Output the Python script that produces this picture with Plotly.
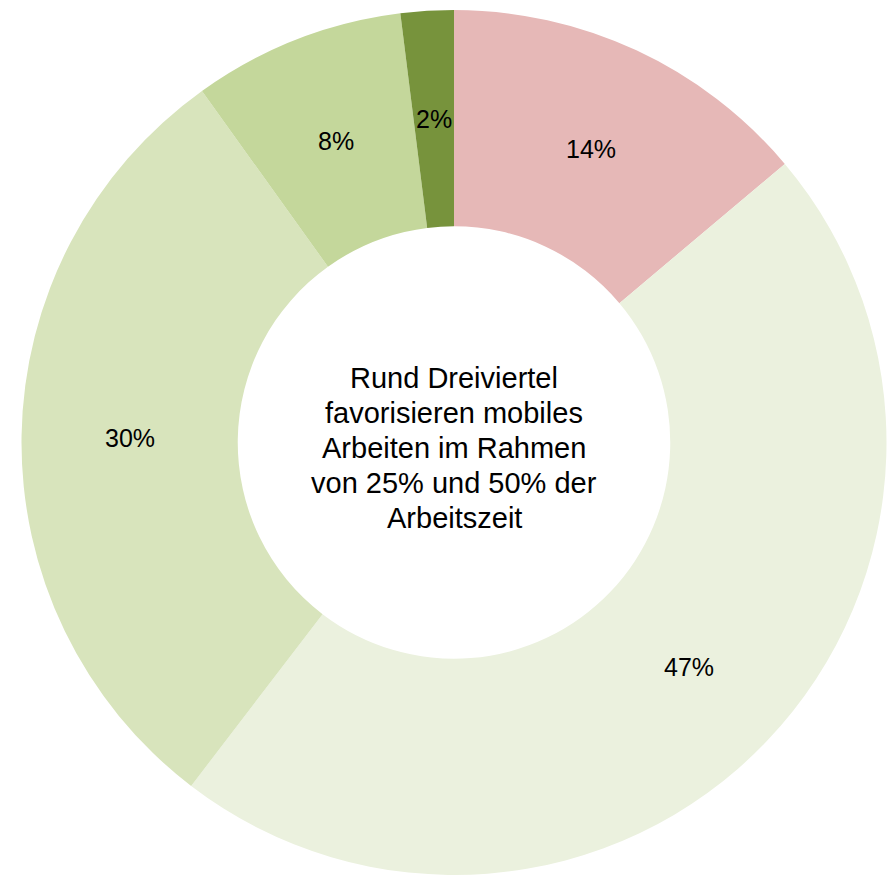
import math
import plotly.graph_objects as go

# Share of preferred mobile-work time, clockwise from 12 o'clock
categories = ["Anteil A", "Anteil B", "Anteil C", "Anteil D", "Anteil E"]
shares = [14, 47, 30, 8, 2]
colors = ["#E6B8B7", "#EBF1DE", "#D8E4BC", "#C4D79B", "#77933C"]

center_lines = [
    "Rund Dreiviertel",
    "favorisieren mobiles",
    "Arbeiten im Rahmen",
    "von 25% und 50% der",
    "Arbeitszeit",
]

W, H = 896, 875
FONT = "Liberation Sans, Arial, sans-serif"

# Pie placement in pixels
x0, x1 = 21, 887
top = 10
radius = (x1 - x0) / 2
cx = (x0 + x1) / 2
cy = top + radius
hole = 0.5

fig = go.Figure(
    go.Pie(
        labels=categories,
        values=shares,
        hole=hole,
        sort=False,
        direction="clockwise",
        rotation=0,
        marker=dict(colors=colors, line=dict(width=0)),
        textinfo="none",
        hoverinfo="label+value",
        showlegend=False,
        domain=dict(x=[x0 / W, x1 / W], y=[0, 1 - top / H]),
    )
)

# Percentage labels at the middle angle of each slice, mid-ring
total = sum(shares)
label_r = radius * 0.749
cum = 0
for v in shares:
    ang = math.radians((cum + v / 2) / total * 360)
    cum += v
    px = cx + label_r * math.sin(ang)
    py = cy - label_r * math.cos(ang)
    fig.add_annotation(
        text=f"{v}%",
        x=px / W,
        y=1 - py / H,
        xref="paper",
        yref="paper",
        showarrow=False,
        xanchor="center",
        yanchor="middle",
        font=dict(family=FONT, size=25, color="black"),
    )

# Centre caption, one annotation per line
line_gap = 35
first_y = 378
for i, line in enumerate(center_lines):
    fig.add_annotation(
        text=line,
        x=cx / W,
        y=1 - (first_y + i * line_gap) / H,
        xref="paper",
        yref="paper",
        showarrow=False,
        xanchor="center",
        yanchor="middle",
        font=dict(family=FONT, size=29, color="black"),
    )

fig.update_layout(
    width=W,
    height=H,
    margin=dict(l=0, r=0, t=0, b=0),
    paper_bgcolor="white",
    plot_bgcolor="white",
)

fig.write_html("out.html")
